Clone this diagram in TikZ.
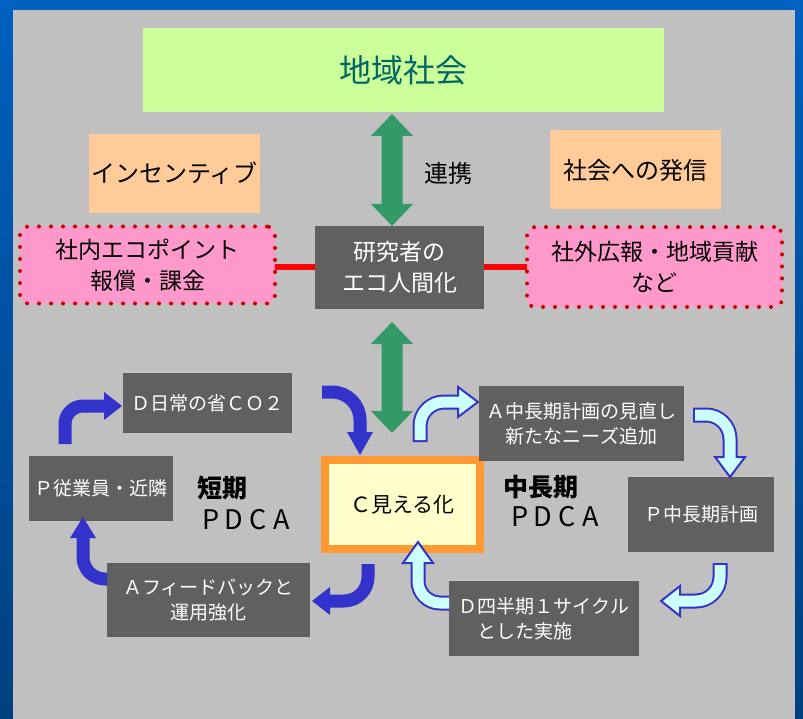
\documentclass[tikz,border=0pt]{standalone}
\usepackage{fontspec}
\setmainfont{Noto Sans CJK JP}
\definecolor{bgblue}{HTML}{0060C0}
\definecolor{bgdark}{HTML}{00407F}
\definecolor{panel}{HTML}{C0C0C0}
\definecolor{socfill}{HTML}{CCFF99}
\definecolor{soctext}{HTML}{006666}
\definecolor{orng}{HTML}{FFCC99}
\definecolor{pnkfill}{HTML}{FF99CC}
\definecolor{dotred}{HTML}{CC0000}
\definecolor{dk}{HTML}{606060}
\definecolor{garrow}{HTML}{339966}
\definecolor{barrow}{HTML}{3333CC}
\definecolor{carrow}{HTML}{CCFFFF}
\definecolor{cframe}{HTML}{FF9933}
\definecolor{cfill}{HTML}{FFFFCC}
\newcommand\gdouble[2]{%
  \fill[garrow] (#1) -- ([shift={(21pt,-22pt)}]#1) -- ([shift={(10.5pt,-22pt)}]#1)
    -- ([shift={(10.5pt,22pt)}]#2) -- ([shift={(21pt,22pt)}]#2) -- (#2)
    -- ([shift={(-21pt,22pt)}]#2) -- ([shift={(-10.5pt,22pt)}]#2)
    -- ([shift={(-10.5pt,-22pt)}]#1) -- ([shift={(-21pt,-22pt)}]#1) -- cycle;}
\newcommand\pdcatext{\makebox[23.5pt]{P}\makebox[23.5pt]{D}\makebox[23.5pt]{C}\makebox[23.5pt]{A}}
\begin{document}
\begin{tikzpicture}[x=1pt,y=-1pt,
  every node/.style={inner sep=0pt, outer sep=0pt},
  socbox/.style={fill=socfill, text=soctext, minimum width=521pt, minimum height=84pt, font=\fontsize{32}{38}\selectfont},
  orbox/.style={fill=orng, minimum width=171pt, minimum height=79pt, font=\fontsize{24}{30}\selectfont},
  pkbox/.style={fill=pnkfill, draw=dotred, line width=4pt, dash pattern=on 0pt off 12pt, line cap=round, rounded corners=8pt, align=center, font=\fontsize{23}{31}\selectfont},
  dkbox/.style={fill=dk, text=white, align=center, font=\fontsize{19}{25}\selectfont},
  cbox/.style={fill=cfill, draw=cframe, line width=8pt, minimum width=155pt, minimum height=89pt, font=\fontsize{21}{26}\selectfont},
  lbl/.style={font=\fontsize{24}{30}\selectfont},
  pdca/.style={font=\fontsize{27}{30}\selectfont},
  redline/.style={draw=red, line width=6pt},
  bshaft/.style={draw=barrow, line width=13pt},
  cout/.style={draw=barrow, line width=15pt},
  cin/.style={draw=carrow, line width=11pt},
  chead/.style={fill=carrow, draw=barrow, line width=2pt, line join=miter}
]
\useasboundingbox (0,0) rectangle (803,719);
\shade[top color=bgblue, bottom color=bgdark] (0,0) rectangle (803,719);
\fill[panel] (13,10) rectangle (795,719);

% top part
\node[socbox] (soc) at (403.5,70) {地域社会};
\node[orbox] (inc) at (174.5,173.5) {インセンティブ};
\node[orbox] (out) at (635.5,170) {社会への発信};
\node[lbl] (ren) at (448,173) {連携};
\node[pkbox, minimum width=255pt, minimum height=77pt] (pinkL) at (147.5,265) {社内エコポイント\\報償・課金};
\node[pkbox, minimum width=255pt, minimum height=80pt] (pinkR) at (654.5,267) {社外広報・地域貢献\\など};
\node[dkbox, minimum width=169pt, minimum height=83pt, font=\fontsize{23}{31}\selectfont] (res) at (399.5,267.5) {研究者の\\エコ人間化};
\draw[redline] (res.west) -- (res.west -| pinkL.east);
\draw[redline] (res.east) -- (res.east -| pinkR.west);

\coordinate (g1t) at (392,114);
\coordinate (g1b) at (392,226);
\coordinate (g2t) at (392,322);
\coordinate (g2b) at (392,433);
\gdouble{g1t}{g1b}
\gdouble{g2t}{g2b}

% PDCA boxes
\node[dkbox, minimum width=169pt, minimum height=60pt] (dd) at (207.5,403) {Ｄ日常の省ＣＯ２};
\node[dkbox, minimum width=144pt, minimum height=65pt] (pe) at (101,488.5) {Ｐ従業員・近隣};
\node[dkbox, minimum width=203pt, minimum height=74pt] (af) at (208.5,600) {Ａフィードバックと\\運用強化};
\node[cbox] (cv) at (402.5,504.5) {Ｃ見える化};
\node[dkbox, minimum width=205pt, minimum height=75pt] (am) at (581.5,423.5) {Ａ中長期計画の見直し\\新たなニーズ追加};
\node[dkbox, minimum width=146pt, minimum height=75pt] (pm) at (701,514.5) {Ｐ中長期計画};
\node[dkbox, align=left, minimum width=190pt, minimum height=75pt] (dq) at (544,618.5) {Ｄ四半期１サイクル\\\hspace{1em}とした実施};

\node[lbl, font=\fontsize{25}{30}\selectfont\bfseries] (st) at (222,488) {短期};
\node[pdca] (sp) at (246,520) {\pdcatext};
\node[lbl, font=\fontsize{25}{30}\selectfont\bfseries] (mt) at (541,487) {中長期};
\node[pdca] (mp) at (555,517) {\pdcatext};

% short-term blue arrows
\draw[bshaft, rounded corners=18pt] (65,444) -- (65,406) -- (104.5,406);
\fill[barrow] (122,406) -- (104,392) -- (104,420) -- cycle;
\draw[bshaft, rounded corners=28pt] (322,392) -- (360,392) -- (360,432.5);
\fill[barrow] (360,455) -- (347,432) -- (373,432) -- cycle;
\draw[bshaft, rounded corners=24pt] (368,564) -- (368,601) -- (329.5,601);
\fill[barrow] (312,601) -- (330,587) -- (330,615) -- cycle;
\draw[bshaft, rounded corners=22pt] (107,579) -- (83,579) -- (83,537.5);
\fill[barrow] (83,517) -- (70,538) -- (96,538) -- cycle;

% mid-long cyan arrows
\filldraw[chead] (478,402) -- (458,387) -- (458,417) -- cycle;
\draw[cout, rounded corners=24pt] (420,442) -- (420,402) -- (458,402);
\draw[cin, rounded corners=24pt] (420,440) -- (420,402) -- (460.5,402);

\filldraw[chead] (730,477) -- (715,457) -- (745,457) -- cycle;
\draw[cout, rounded corners=24pt] (693,415) -- (730,415) -- (730,457);
\draw[cin, rounded corners=24pt] (695,415) -- (730,415) -- (730,459.5);

\filldraw[chead] (661,601) -- (680,586) -- (680,616) -- cycle;
\draw[cout, rounded corners=24pt] (720,563) -- (720,601) -- (680,601);
\draw[cin, rounded corners=24pt] (720,565) -- (720,601) -- (677.5,601);

\filldraw[chead] (418,542) -- (403,563) -- (433,563) -- cycle;
\draw[cout, rounded corners=22pt] (449,603) -- (418,603) -- (418,563);
\draw[cin, rounded corners=22pt] (449,603) -- (418,603) -- (418,560.5);
\end{tikzpicture}
\end{document}
